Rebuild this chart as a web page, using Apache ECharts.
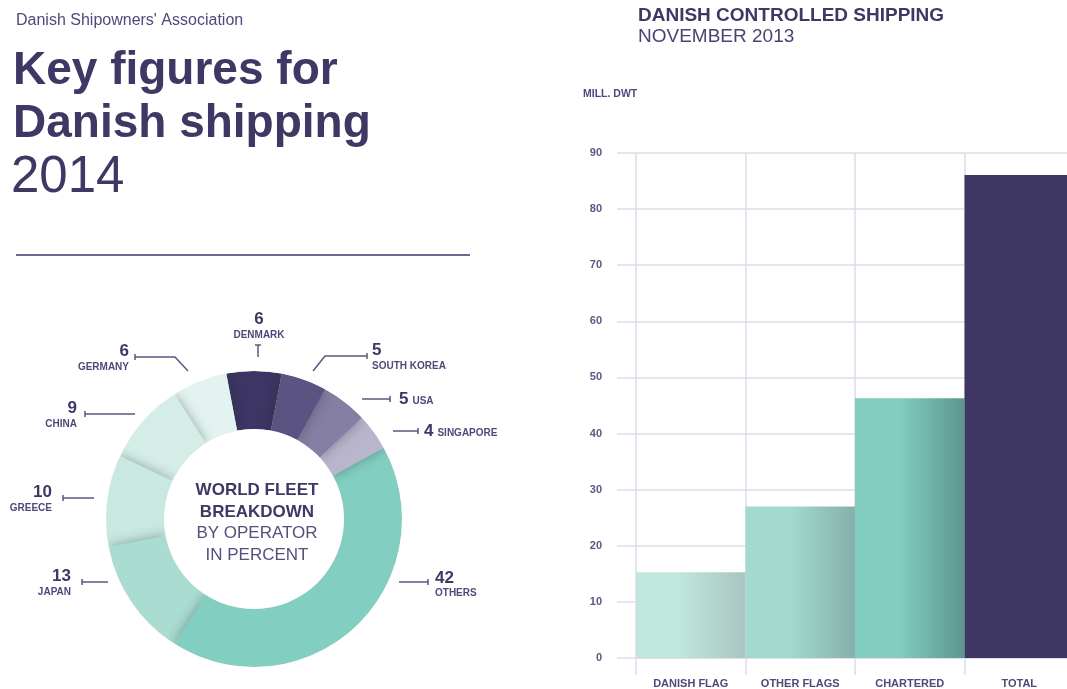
<!DOCTYPE html>
<html>
<head>
<meta charset="utf-8">
<title>Key figures for Danish shipping 2014</title>
<script src="https://cdn.jsdelivr.net/npm/echarts@6/dist/echarts.min.js"></script>
<style>
  html, body { margin: 0; padding: 0; background: #ffffff; overflow: hidden; }
  #chart { width: 1080px; height: 689px; }
</style>
</head>
<body>
<div id="chart"></div>
<script>
// ---- Data --------------------------------------------------------------
// World fleet breakdown by operator, in percent (clockwise from the top)
const operators = ['DENMARK', 'SOUTH KOREA', 'USA', 'SINGAPORE', 'OTHERS', 'JAPAN', 'GREECE', 'CHINA', 'GERMANY'];
const operatorShares = [6, 5, 5, 4, 42, 13, 10, 9, 6];

// Danish controlled shipping, November 2013, mill. dwt
const fleetCategories = ['DANISH FLAG', 'OTHER FLAGS', 'CHARTERED', 'TOTAL'];
const fleetDwt = [15.3, 27.0, 46.3, 86.1];
const dwtAxis = { min: 0, max: 90, interval: 10 };

// ---- Styling -----------------------------------------------------------
const INK = '#3e3864';
const INK_SOFT = '#4f4979';
const GRID = '#dddbea';
const FONT = '"Liberation Sans", Arial, sans-serif';

const operatorColors = {
  'DENMARK': '#3d3563',
  'SOUTH KOREA': '#5b5483',
  'USA': '#857fa3',
  'SINGAPORE': '#b9b5cc',
  'OTHERS': '#82cfc1',
  'JAPAN': '#aadcd2',
  'GREECE': '#c8e8e1',
  'CHINA': '#d4ede7',
  'GERMANY': '#e3f4f0'
};

// [base colour, shaded right edge]
const barShades = [
  ['#c0e6de', '#a8c5bf'],
  ['#a2dad0', '#86b0a9'],
  ['#82cdbf', '#5d968c'],
  ['#3e3764', '#3e3764']
];

const PIE = { cx: 254, cy: 519, r0: 90, r1: 148 };
const START_EDGE = 79.2;   // right edge of the first (DENMARK) sector, degrees

// Callout placement: leader line (from ring outwards) and text anchor
const callouts = {
  'DENMARK':     { line: [[258, 357], [258, 351], [258, 345]], x: 259, y: 342, align: 'center', v: 'bottom', inline: false },
  'SOUTH KOREA': { line: [[313, 371], [325, 356], [367, 356]], x: 372, y: 357.5, align: 'left', v: 'middle', inline: false },
  'USA':         { line: [[362, 399], [376, 399], [390, 399]], x: 399, y: 399.5, align: 'left', v: 'middle', inline: true },
  'SINGAPORE':   { line: [[393, 431], [405, 431], [418, 431]], x: 424, y: 431.5, align: 'left', v: 'middle', inline: true },
  'OTHERS':      { line: [[399, 582], [414, 582], [428, 582]], x: 435, y: 585, align: 'left', v: 'middle', inline: false },
  'JAPAN':       { line: [[108, 582], [95, 582], [82, 582]], x: 71, y: 583.5, align: 'right', v: 'middle', inline: false },
  'GREECE':      { line: [[94, 498], [78, 498], [63, 498]], x: 52, y: 499.5, align: 'right', v: 'middle', inline: false },
  'CHINA':       { line: [[135, 414], [110, 414], [85, 414]], x: 77, y: 415.5, align: 'right', v: 'middle', inline: false },
  'GERMANY':     { line: [[188, 371], [175, 357], [135, 357]], x: 129, y: 358.5, align: 'right', v: 'middle', inline: false }
};

// ---- Build series data ---------------------------------------------------
// Sectors are listed counter-clockwise so that each sector's soft shadow
// falls on the leading edge of its clockwise neighbour.
const ccwOrder = [0].concat(operators.map((_, i) => i).slice(1).reverse());
const pieData = ccwOrder.map(i => ({
  name: operators[i],
  value: operatorShares[i],
  itemStyle: { color: operatorColors[operators[i]] }
}));
const pieLabelData = ccwOrder.map(i => ({ name: operators[i], value: operatorShares[i] }));

const barData = fleetDwt.map((v, i) => ({
  value: v,
  itemStyle: {
    color: new echarts.graphic.LinearGradient(0, 0, 1, 0, [
      { offset: 0, color: barShades[i][0] },
      { offset: 0.4, color: barShades[i][0] },
      { offset: 1, color: barShades[i][1] }
    ])
  }
}));

function richFor(align) {
  return {
    v: { fontFamily: FONT, fontSize: 17, fontWeight: 'bold', color: INK, lineHeight: 17, align: align },
    n: { fontFamily: FONT, fontSize: 10, fontWeight: 'bold', color: INK_SOFT, lineHeight: 14, align: align },
    ni: { fontFamily: FONT, fontSize: 10, fontWeight: 'bold', color: INK_SOFT, lineHeight: 17, padding: [3, 0, 0, 4] }
  };
}
const rich = {};
['left', 'right', 'center'].forEach(a => {
  const r = richFor(a);
  const k = a.charAt(0);
  rich['v' + k] = r.v; rich['n' + k] = r.n; rich['i' + k] = r.ni;
});

// Small end caps on the outer end of every leader line
const capElements = Object.keys(callouts).map(name => {
  const pts = callouts[name].line;
  const a = pts[pts.length - 2], b = pts[pts.length - 1];
  const dx = b[0] - a[0], dy = b[1] - a[1];
  const len = Math.sqrt(dx * dx + dy * dy) || 1;
  const nx = -dy / len * 3, ny = dx / len * 3;
  return {
    type: 'line', z: 120, silent: true,
    shape: { x1: b[0] - nx, y1: b[1] - ny, x2: b[0] + nx, y2: b[1] + ny },
    style: { stroke: '#5c5680', lineWidth: 1.5 }
  };
});

const chart = echarts.init(document.getElementById('chart'), null, { renderer: 'canvas' });

chart.setOption({
  backgroundColor: '#ffffff',
  animation: false,
  grid: { left: 636, top: 153, width: 438, height: 506 },
  xAxis: {
    type: 'category',
    data: fleetCategories,
    boundaryGap: true,
    axisLine: { show: true, lineStyle: { color: GRID, width: 1.5 } },
    axisTick: { show: true, interval: 0, length: 17, lineStyle: { color: GRID, width: 1.5 } },
    splitLine: { show: true, interval: 0, lineStyle: { color: GRID, width: 1.5 } },
    axisLabel: { margin: 20, interval: 0, fontFamily: FONT, fontSize: 11, fontWeight: 'bold', color: INK_SOFT }
  },
  yAxis: {
    type: 'value',
    min: dwtAxis.min, max: dwtAxis.max, interval: dwtAxis.interval,
    axisLine: { show: false },
    axisTick: { show: true, length: 19, lineStyle: { color: GRID, width: 1.5 } },
    splitLine: { show: true, lineStyle: { color: GRID, width: 1.5 } },
    axisLabel: { margin: 34, fontFamily: FONT, fontSize: 11, fontWeight: 'bold', color: '#5c5880' }
  },
  series: [
    {
      type: 'bar',
      data: barData,
      barWidth: '100%',
      barCategoryGap: 0,
      silent: true,
      z: 3
    },
    {
      // coloured ring with soft shading between sectors
      type: 'pie',
      center: [PIE.cx, PIE.cy],
      radius: [PIE.r0, PIE.r1],
      startAngle: START_EDGE,
      clockwise: false,
      silent: true,
      z: 2,
      label: { show: false },
      labelLine: { show: false },
      itemStyle: { shadowBlur: 12, shadowColor: 'rgba(25,45,45,0.38)', borderWidth: 0 },
      data: pieData
    },
    {
      // same ring, transparent, carrying the callouts above the edge masks
      type: 'pie',
      center: [PIE.cx, PIE.cy],
      radius: [PIE.r0, PIE.r1],
      startAngle: START_EDGE,
      clockwise: false,
      silent: true,
      z: 110,
      itemStyle: { color: 'rgba(0,0,0,0)' },
      label: {
        show: true,
        position: 'outside',
        rich: rich,
        formatter: p => {
          const c = callouts[p.name];
          const k = c.align.charAt(0);
          if (c.inline) return '{v' + k + '|' + p.value + '}{i' + k + '|' + p.name + '}';
          return '{v' + k + '|' + p.value + '}\n{n' + k + '|' + p.name + '}';
        }
      },
      labelLine: { show: true, lineStyle: { color: '#5c5680', width: 1.5 } },
      labelLayout: p => {
        const c = callouts[pieLabelData[p.dataIndex].name];
        return { x: c.x, y: c.y, align: c.align, verticalAlign: c.v, labelLinePoints: c.line };
      },
      data: pieLabelData
    }
  ],
  graphic: [
    // clean the outer and inner edges of the ring
    { type: 'ring', z: 100, silent: true, shape: { cx: PIE.cx, cy: PIE.cy, r0: PIE.r1, r: PIE.r1 + 22 }, style: { fill: '#ffffff' } },
    { type: 'circle', z: 100, silent: true, shape: { cx: PIE.cx, cy: PIE.cy, r: PIE.r0 }, style: { fill: '#ffffff' } },
    {
      type: 'text', z: 120, silent: true,
      x: 257, y: 523,
      style: {
        text: '{b|WORLD FLEET}\n{b|BREAKDOWN}\n{r|BY OPERATOR}\n{r|IN PERCENT}',
        align: 'center', verticalAlign: 'middle',
        rich: {
          b: { fontFamily: FONT, fontSize: 17, fontWeight: 'bold', fill: INK, lineHeight: 21.5, align: 'center' },
          r: { fontFamily: FONT, fontSize: 17, fill: '#554f7c', lineHeight: 21.5, align: 'center' }
        }
      }
    },
    // headline block
    { type: 'text', z: 120, x: 16, y: 21, style: { text: "Danish Shipowners' Association", fontFamily: FONT, fontSize: 16, fill: INK_SOFT, verticalAlign: 'middle' } },
    { type: 'text', z: 120, x: 13, y: 71, style: { text: 'Key figures for', fontFamily: FONT, fontSize: 46, fontWeight: 'bold', fill: INK, verticalAlign: 'middle' } },
    { type: 'text', z: 120, x: 13, y: 124, style: { text: 'Danish shipping', fontFamily: FONT, fontSize: 46, fontWeight: 'bold', fill: INK, verticalAlign: 'middle' } },
    { type: 'text', z: 120, x: 11, y: 178, style: { text: '2014', fontFamily: FONT, fontSize: 51, fill: INK, verticalAlign: 'middle' } },
    { type: 'line', z: 120, shape: { x1: 16, y1: 255, x2: 470, y2: 255 }, style: { stroke: '#6e6890', lineWidth: 2 } },
    // bar chart headings
    { type: 'text', z: 120, x: 638, y: 16, style: { text: 'DANISH CONTROLLED SHIPPING', fontFamily: FONT, fontSize: 19, fontWeight: 'bold', fill: INK, verticalAlign: 'middle' } },
    { type: 'text', z: 120, x: 638, y: 37, style: { text: 'NOVEMBER 2013', fontFamily: FONT, fontSize: 19, fill: '#4a4472', verticalAlign: 'middle' } },
    { type: 'text', z: 120, x: 583, y: 94, style: { text: 'MILL. DWT', fontFamily: FONT, fontSize: 10.5, fontWeight: 'bold', fill: INK_SOFT, verticalAlign: 'middle' } }
  ].concat(capElements)
});
</script>
</body>
</html>
